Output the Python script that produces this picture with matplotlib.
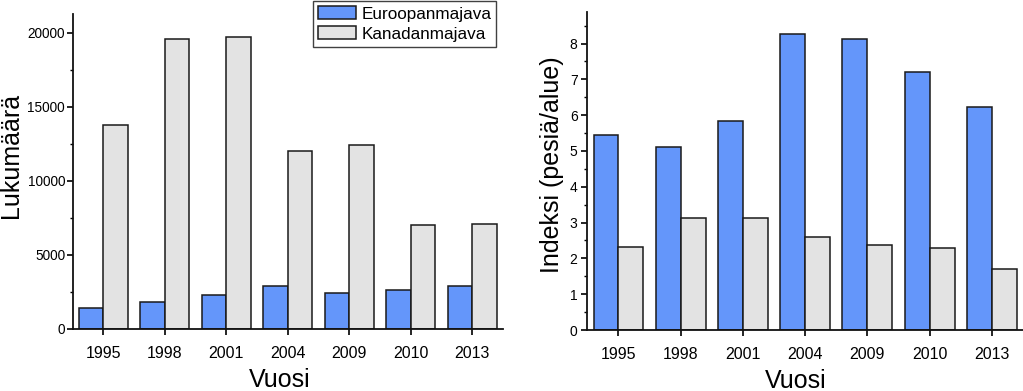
import matplotlib
matplotlib.use("Agg")
import matplotlib.pyplot as plt
import numpy as np
from matplotlib.ticker import MultipleLocator

plt.rcParams['font.family'] = ['Liberation Sans', 'DejaVu Sans']

years = ["1995", "1998", "2001", "2004", "2009", "2010", "2013"]
series_names = ["Euroopanmajava", "Kanadanmajava"]
count_euro = [1420, 1820, 2320, 2880, 2410, 2610, 2920]
count_kanada = [13750, 19550, 19710, 12010, 12420, 7000, 7060]
index_euro = [5.46, 5.12, 5.84, 8.26, 8.13, 7.20, 6.24]
index_kanada = [2.31, 3.14, 3.14, 2.61, 2.37, 2.29, 1.71]

blue = "#6496fa"
grey = "#e3e3e3"
edge = "#1a1a1a"

W, H = 1023, 391
fig = plt.figure(figsize=(W / 100, H / 100), dpi=100)

def px_axes(x0, x1, ytop, ybot):
    return fig.add_axes([x0 / W, (H - ybot) / H, (x1 - x0) / W, (ybot - ytop) / H])

ax1 = px_axes(72.7, 503, 14, 329)
ax2 = px_axes(587.3, 1023, 11.7, 330)

x = np.arange(len(years))
bw = 0.4

def style(ax, ymax, major, minor, ylabel, lx, ly, vx, vy, ytick_fs, ypad):
    ax.set_xlim(-0.5, 6.5)
    ax.set_ylim(0, ymax)
    ax.spines['top'].set_visible(False)
    ax.spines['right'].set_visible(False)
    for s in ('left', 'bottom'):
        ax.spines[s].set_linewidth(1.3)
        ax.spines[s].set_color('#111111')
    ax.yaxis.set_major_locator(MultipleLocator(major))
    ax.yaxis.set_minor_locator(MultipleLocator(minor))
    ax.set_xticks(x)
    ax.set_xticklabels(years)
    ax.tick_params(axis='x', direction='out', length=4.5, width=1.2, pad=7.5, labelsize=11.5)
    ax.tick_params(axis='y', which='major', direction='out', length=4.5, width=1.2, pad=ypad, labelsize=ytick_fs)
    ax.tick_params(axis='y', which='minor', direction='out', length=2.5, width=1.0)
    ax.set_ylabel(ylabel, fontsize=18)
    ax.yaxis.label.set_va('center')
    ax.yaxis.set_label_coords(lx, ly)
    ax.set_xlabel("Vuosi", fontsize=18)
    ax.xaxis.label.set_va('baseline')
    ax.xaxis.set_label_coords(vx, vy)

b1 = ax1.bar(x - bw / 2, count_euro, bw, color=blue, edgecolor=edge, linewidth=1.1, label=series_names[0])
b2 = ax1.bar(x + bw / 2, count_kanada, bw, color=grey, edgecolor=edge, linewidth=1.1, label=series_names[1])
style(ax1, 21260, 5000, 2500, "Lukumäärä", -0.1425, 0.552, 0.482, -0.1855, 9.8, 1)

ax2.bar(x - bw / 2, index_euro, bw, color=blue, edgecolor=edge, linewidth=1.1)
ax2.bar(x + bw / 2, index_kanada, bw, color=grey, edgecolor=edge, linewidth=1.1)
style(ax2, 8.89, 1, 0.5, "Indeksi (pesiä/alue)", -0.0799, 0.518, 0.479, -0.181, 10, 2.5)

leg = fig.legend(handles=[b1, b2], labels=series_names, loc='upper left',
                 bbox_to_anchor=(313.3 / W, (H - 1) / H), borderaxespad=0,
                 fontsize=12.3, frameon=True, fancybox=False, edgecolor='#111111',
                 handlelength=2.18, handleheight=0.82, handletextpad=0.33,
                 labelspacing=0.25, borderpad=0.3)
leg.get_frame().set_linewidth(1.0)

fig.savefig("out.png", dpi=100)
